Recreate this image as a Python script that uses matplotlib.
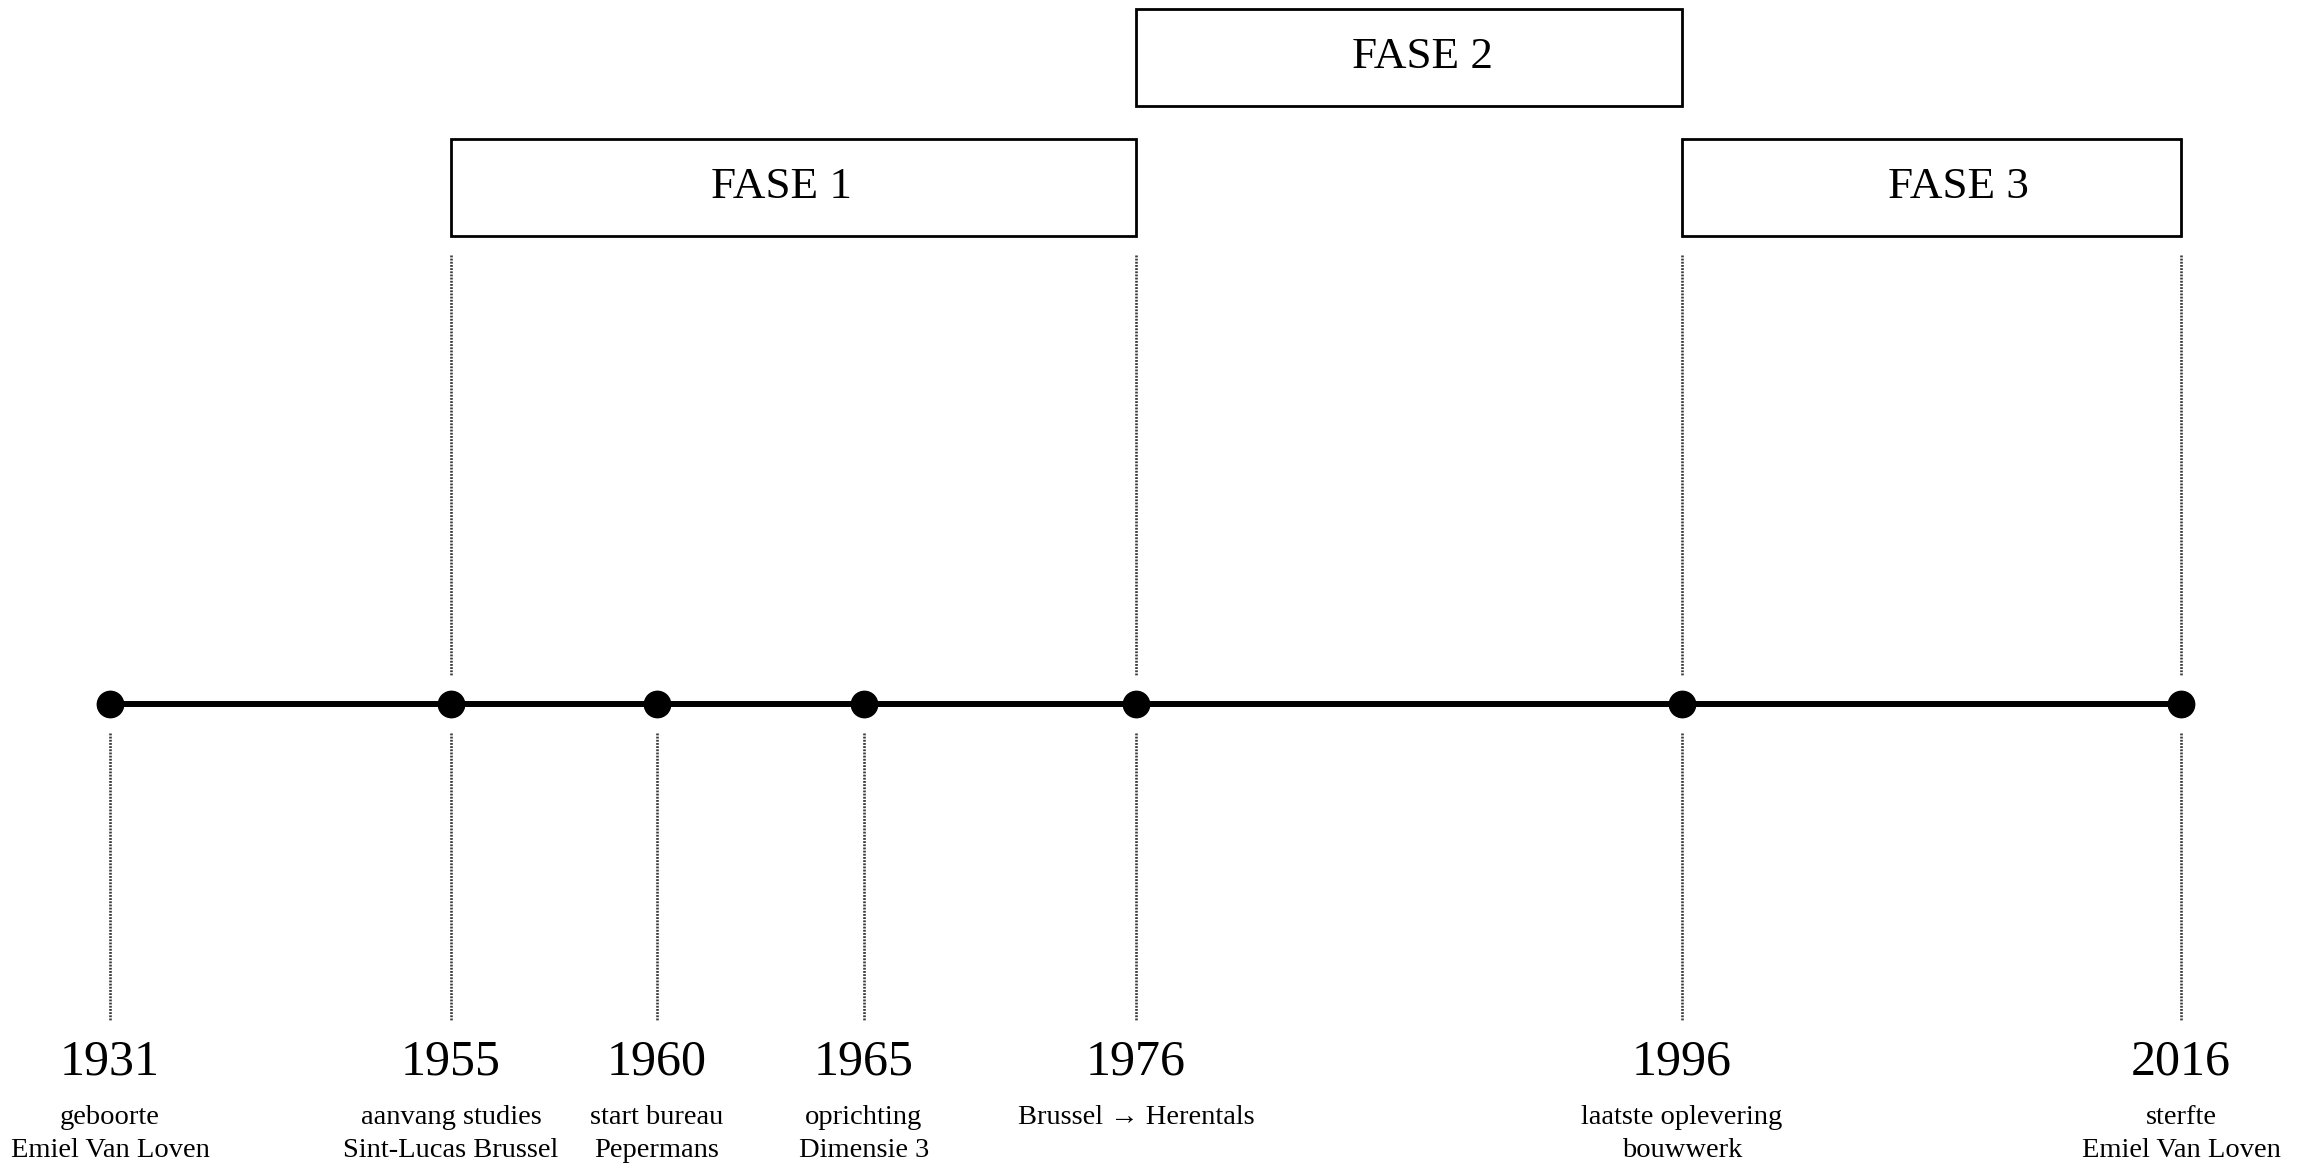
import matplotlib
matplotlib.use("Agg")
import matplotlib.pyplot as plt
from matplotlib.patches import Rectangle

# ---- data ----
years = [1931, 1955, 1960, 1965, 1976, 1996, 2016]
events = [
    "geboorte\nEmiel Van Loven",
    "aanvang studies\nSint-Lucas Brussel",
    "start bureau\nPepermans",
    "oprichting\nDimensie 3",
    "Brussel \u2192 Herentals",
    "laatste oplevering\nbouwwerk",
    "sterfte\nEmiel Van Loven",
]
phases = ["FASE 1", "FASE 2", "FASE 3"]
phase_start = [1955, 1976, 1996]
phase_end = [1976, 1996, 2016]

# ---- layout (display positions along the timeline, not proportional to years) ----
x_pos = [110, 451, 657, 864, 1136, 1682, 2181]
pos = dict(zip(years, x_pos))
phase_row_top = [139, 9, 139]
phase_label_dx = [-12, 13, 27]
phase_h = 97
line_y = 704

FONT = ["Liberation Serif", "DejaVu Serif"]
plt.rcParams["font.family"] = FONT

fig = plt.figure(figsize=(23.13, 11.70), dpi=100)
ax = fig.add_axes([0, 0, 1, 1])
ax.set_xlim(0, 2313)
ax.set_ylim(1170, 0)
ax.axis("off")

dot_style = dict(color="#3a3a3a", lw=1.9, linestyle=(0, (0.7, 0.5)))

# lower dotted guides
for y in years:
    ax.plot([pos[y], pos[y]], [733, 1021], **dot_style, zorder=1)

# upper dotted guides at phase boundaries
bounds = sorted(set(phase_start + phase_end))
for y in bounds:
    ax.plot([pos[y], pos[y]], [255, 676], **dot_style, zorder=1)

# main line and dots
ax.plot([pos[years[0]], pos[years[-1]]], [line_y, line_y], color="black", lw=4.3,
        solid_capstyle="butt", zorder=2)
ax.plot([pos[y] for y in years], [line_y] * len(years), "o", color="black",
        ms=19, zorder=3)

# year labels and event descriptions
for y, ev in zip(years, events):
    ax.text(pos[y], 1062, str(y), ha="center", va="center", fontsize=36,
            color="black")
    ax.text(pos[y], 1105, ev, ha="center", va="top", fontsize=20.5,
            color="black", linespacing=1.4)

# phase boxes
for name, s, e, top, dx in zip(phases, phase_start, phase_end, phase_row_top,
                               phase_label_dx):
    x0, x1 = pos[s], pos[e]
    ax.add_patch(Rectangle((x0, top), x1 - x0, phase_h, fill=False,
                           edgecolor="black", lw=2.0, zorder=2))
    ax.text((x0 + x1) / 2 + dx, top + phase_h / 2, name, ha="center",
            va="center", fontsize=32.5, color="black")

fig.savefig("out.png", dpi=100, facecolor="white")
